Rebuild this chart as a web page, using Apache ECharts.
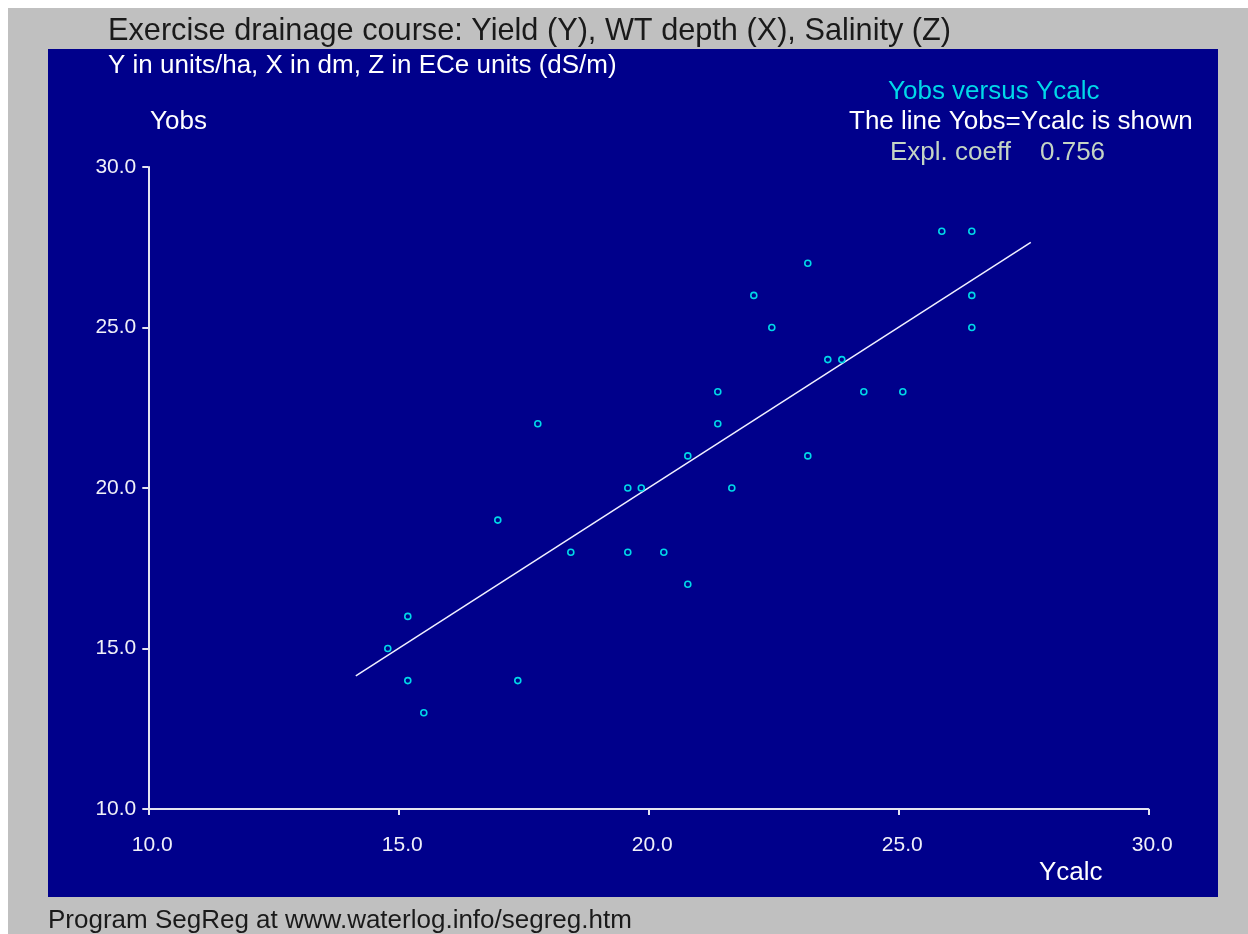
<!DOCTYPE html>
<html>
<head>
<meta charset="utf-8">
<script src="https://cdn.jsdelivr.net/npm/echarts@6/dist/echarts.min.js"></script>
<style>
html,body{margin:0;padding:0;background:#fff;}
#chart{width:1248px;height:934px;}
</style>
</head>
<body>
<div id="chart"></div>
<script>
// Data
var ycalc = [14.79, 15.19, 15.19, 15.51, 16.99, 17.39, 17.79, 18.45, 19.59, 19.59, 19.86, 20.31, 20.79, 20.79, 21.39, 21.39, 21.67, 22.11, 22.47, 23.19, 23.19, 23.59, 23.87, 24.31, 25.09, 25.87, 26.47, 26.47, 26.47];
var yobs  = [15, 16, 14, 13, 19, 14, 22, 18, 20, 18, 20, 18, 21, 17, 23, 22, 20, 26, 25, 27, 21, 24, 24, 23, 23, 28, 28, 26, 25];
var lineYcalc = [14.15, 27.65];
var lineYobs  = [14.15, 27.65];
var axisTicks = [10, 15, 20, 25, 30];
var explCoeff = "0.756";

var FONT = "'Liberation Sans', Arial, sans-serif";
var pts = ycalc.map(function (x, i) { return [x, yobs[i]]; });
var linePts = lineYcalc.map(function (x, i) { return [x, lineYobs[i]]; });

function txt(x, y, s, size, color) {
  return { type: 'text', x: x, y: y, z: 10, style: { text: s, fill: color, font: size + 'px ' + FONT, textVerticalAlign: 'middle', textAlign: 'left' } };
}

var chart = echarts.init(document.getElementById('chart'), null, { renderer: 'canvas' });
chart.setOption({
  backgroundColor: '#ffffff',
  animation: false,
  grid: { left: 148.3, right: 99.7, top: 167, bottom: 125, containLabel: false },
  xAxis: {
    type: 'value', min: axisTicks[0], max: axisTicks[axisTicks.length - 1], interval: 5,
    axisLine: { lineStyle: { color: '#e4e4f0', width: 2 } },
    axisTick: { show: true, length: 6, lineStyle: { color: '#e4e4f0', width: 2 }, inside: false },
    splitLine: { show: false },
    axisLabel: { color: '#f0f0f8', fontFamily: FONT, fontSize: 21, margin: 26, padding: [0, 0, 0, 8], formatter: function (v) { return v.toFixed(1); } }
  },
  yAxis: {
    type: 'value', min: axisTicks[0], max: axisTicks[axisTicks.length - 1], interval: 5,
    axisLine: { lineStyle: { color: '#e4e4f0', width: 2 } },
    axisTick: { show: true, length: 6, lineStyle: { color: '#e4e4f0', width: 2 } },
    splitLine: { show: false },
    axisLabel: { color: '#f0f0f8', fontFamily: FONT, fontSize: 21, margin: 12, formatter: function (v) { return v.toFixed(1); } }
  },
  graphic: [
    { type: 'rect', z: -10, shape: { x: 8, y: 8, width: 1240, height: 926 }, style: { fill: '#c0c0c0' } },
    { type: 'rect', z: -9, shape: { x: 48, y: 49, width: 1170, height: 848 }, style: { fill: '#00008b' } },
    txt(108, 32, 'Exercise drainage course: Yield (Y), WT depth (X), Salinity (Z)', 30.7, '#1a1a1a'),
    txt(108, 66, 'Y in units/ha, X in dm, Z in ECe units (dS/m)', 26, '#ffffff'),
    txt(150, 122, 'Yobs', 26, '#ffffff'),
    txt(888, 92, 'Yobs versus Ycalc', 26, '#00d8e8'),
    txt(849, 122, 'The line Yobs=Ycalc is shown', 26, '#ffffff'),
    txt(890, 153, 'Expl. coeff', 26, '#c4d4c4'),
    txt(1040, 153, explCoeff, 26, '#c4d4c4'),
    txt(1039, 873, 'Ycalc', 26, '#ffffff'),
    txt(48, 921, 'Program SegReg at www.waterlog.info/segreg.htm', 26, '#1a1a1a')
  ],
  series: [
    {
      type: 'line', data: linePts, symbol: 'none', silent: true,
      lineStyle: { color: '#f0f0ff', width: 1.5 }, z: 2
    },
    {
      type: 'scatter', data: pts, symbol: 'circle', symbolSize: 6,
      itemStyle: { color: 'rgba(0,0,0,0)', borderColor: '#00d8e8', borderWidth: 1.6, opacity: 1 }, z: 3
    }
  ]
});
</script>
</body>
</html>
